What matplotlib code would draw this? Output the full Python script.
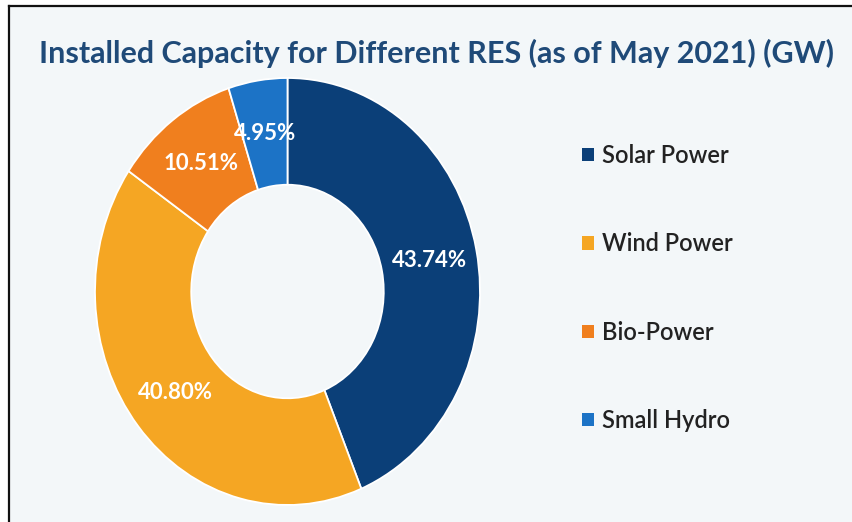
import matplotlib
matplotlib.use("Agg")
import matplotlib.pyplot as plt
from matplotlib.patches import Rectangle, Patch
from matplotlib.lines import Line2D

categories = ["Solar Power", "Wind Power", "Bio-Power", "Small Hydro"]
shares = [43.74, 40.80, 10.51, 4.95]
colors = ["#0B3F78", "#F5A623", "#F07F1E", "#1C73C6"]
title = "Installed Capacity for Different RES (as of May 2021) (GW)"

W, H = 853, 522
fig = plt.figure(figsize=(W / 100, H / 100), dpi=100, facecolor="white")

# panel background and border
fig.patches.append(Rectangle((9 / W, 0), 1 - 9 / W, 1 - 6 / H, transform=fig.transFigure,
                             facecolor="#F3F7F9", edgecolor="none", zorder=-5))
fig.lines.append(Line2D([9 / W, 9 / W], [0, 1 - 5.5 / H], transform=fig.transFigure,
                        color="#111111", lw=1.6, zorder=-4))
fig.lines.append(Line2D([8.5 / W, 1], [1 - 5.5 / H, 1 - 5.5 / H], transform=fig.transFigure,
                        color="#111111", lw=1.6, zorder=-4))

fig.text(437 / W, 1 - 53 / H, title, ha="center", va="center", fontsize=22,
         fontweight="bold", color="#1F4A78", family="Lato")

# donut axes (slightly stretched vertically as in the reference)
left, right, top, bottom = 95, 480, 78, 505
ax = fig.add_axes([left / W, (H - bottom) / H, (right - left) / W, (bottom - top) / H])
wedges, texts, autotexts = ax.pie(
    shares, colors=colors, startangle=90, counterclock=False,
    wedgeprops=dict(width=0.5, edgecolor="white", linewidth=1.3),
    autopct=lambda p: f"{p:.2f}%", pctdistance=0.75,
    textprops=dict(color="white", fontsize=16, fontweight="bold", family="Lato"))
ax.set_aspect("auto")
ax.set_xlim(-1, 1)
ax.set_ylim(-1, 1)
ax.axis("off")

handles = [Patch(facecolor=c, edgecolor="none") for c in colors]
fig.legend(handles, categories, loc="center left", bbox_to_anchor=(582 / W, 1 - 288 / H),
           frameon=False, handlelength=0.5, handleheight=0.5,
           handletextpad=0.35, labelspacing=2.77, borderpad=0, borderaxespad=0,
           labelcolor="#222222", prop=dict(family="Lato", size=17, weight="semibold"))

fig.savefig("out.png", dpi=100, facecolor="white")
